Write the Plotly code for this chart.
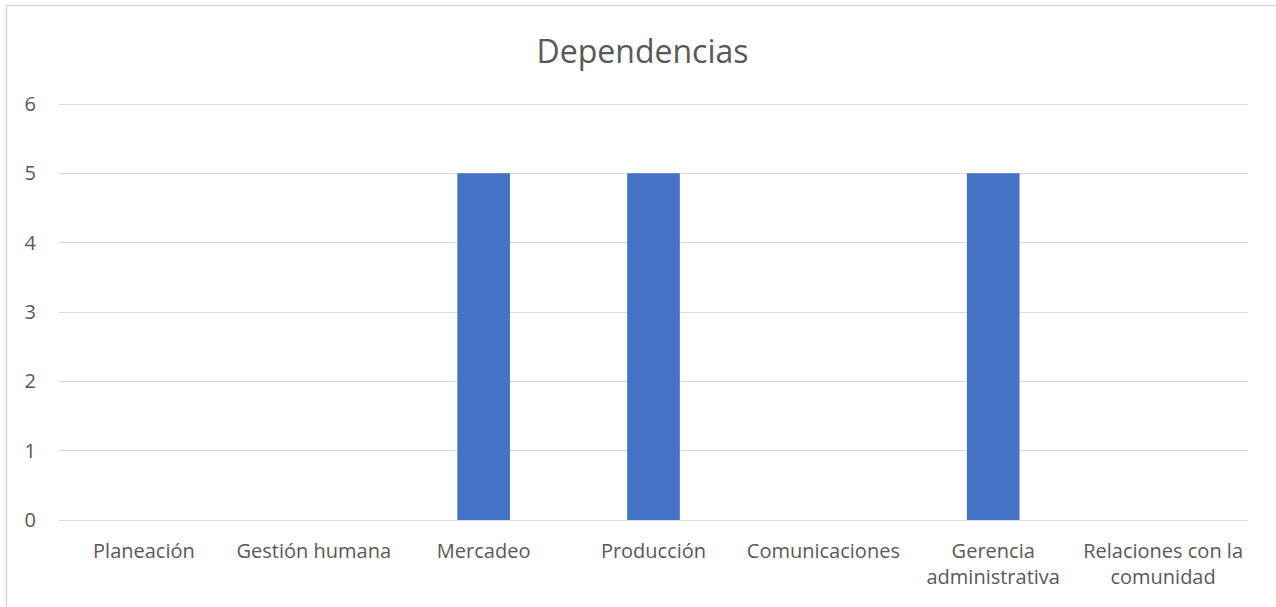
import plotly.graph_objects as go

categories = ["Planeación", "Gestión humana", "Mercadeo", "Producción",
              "Comunicaciones", "Gerencia<br>administrativa", "Relaciones con la<br>comunidad"]
values = [0, 0, 5, 5, 0, 5, 0]
y_ticks = [0, 1, 2, 3, 4, 5, 6]

W, H = 1276, 607
ml, mr, mt, mb = 59, 28, 98, 87
pw = W - ml - mr
ph = H - mt - mb
px_per_unit = 416 / 6
y_top = ph / px_per_unit

fig = go.Figure(go.Bar(x=categories, y=values, marker_color="#4472C4",
                       marker_line_width=0, width=0.31))

fig.update_layout(
    width=W, height=H,
    margin=dict(l=ml, r=mr, t=mt, b=mb, pad=0),
    paper_bgcolor="white", plot_bgcolor="white",
    font=dict(family="Open Sans", color="#595959", size=20),
    title=dict(text="Dependencias", x=(ml + pw / 2 - 11) / W, xanchor="center",
               y=1 - 52 / H, yanchor="middle",
               font=dict(size=32, color="#595959", family="Open Sans")),
    showlegend=False,
)
fig.update_yaxes(range=[0, y_top], tickvals=y_ticks, showgrid=True, gridcolor="#d9d9d9",
                 gridwidth=1, zeroline=False, showline=False, ticks="",
                 ticklabelstandoff=22, tickfont=dict(size=20, color="#595959"))
fig.update_xaxes(showgrid=False, showline=True, linecolor="#d9d9d9", linewidth=1,
                 ticks="", ticklabelstandoff=13, tickfont=dict(size=20, color="#595959"),
                 tickangle=0)

# chart border (left and top edges visible)
fig.add_shape(type="rect", xref="paper", yref="paper",
              x0=(6.5 - ml) / pw, x1=(1280 - ml) / pw,
              y0=(H - mb - 612) / ph, y1=1 + (mt - 5.5) / ph,
              line=dict(color="#d9d9d9", width=1.5), fillcolor="rgba(0,0,0,0)",
              layer="below")

fig.write_html("out.html", config={"displayModeBar": False})

# remove default page margin so the figure sits at the window origin
with open("out.html", "r", encoding="utf-8") as f:
    html = f.read()
html = html.replace("<head>", "<head><style>html,body{margin:0;padding:0;overflow:hidden}</style>", 1)
with open("out.html", "w", encoding="utf-8") as f:
    f.write(html)
